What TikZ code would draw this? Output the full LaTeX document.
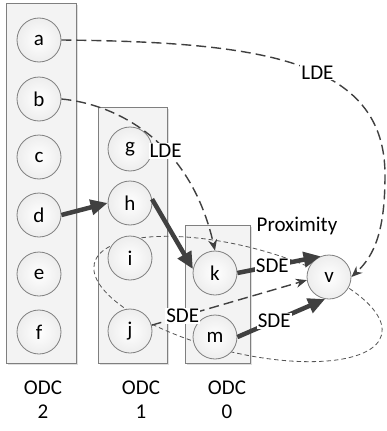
\documentclass[tikz,border=0pt]{standalone}
\usepackage{fontspec}
\setmainfont{Carlito}
\usetikzlibrary{arrows.meta,shadows}
\definecolor{edgedark}{HTML}{404040}
\definecolor{boxfill}{HTML}{F3F3F3}
\definecolor{boxline}{HTML}{7F7F7F}
\tikzset{
  odcbox/.style={draw=boxline, fill=boxfill, line width=0.9pt,
    drop shadow={shadow xshift=1.5pt, shadow yshift=-1.5pt, opacity=0.25}},
  vert/.style={circle, draw=boxline, line width=0.8pt, minimum size=44pt, inner sep=0pt,
    inner color=white, outer color=gray!14, font=\fontsize{21}{23}\selectfont},
  strong/.style={draw=edgedark, line width=4.5pt, -{Triangle[length=17pt,width=15pt]}},
  weak/.style={draw=edgedark, line width=1.4pt, dash pattern=on 10pt off 5pt,
    -{Stealth[length=11pt,width=9pt]}},
  lab/.style={fill=white, inner sep=1pt, font=\fontsize{21}{23}\selectfont},
  txt/.style={font=\fontsize{21}{24}\selectfont, align=center},
}
\begin{document}
\begin{tikzpicture}[x=1pt,y=-1pt]
\useasboundingbox (0,0) rectangle (387,431);
% boxes
\node[odcbox, minimum width=70pt, minimum height=360pt, inner sep=0pt] (c2) at (41,183) {};
\node[odcbox, minimum width=69pt, minimum height=256pt, inner sep=0pt] (c1) at (132.5,235) {};
\node[odcbox, minimum width=65pt, minimum height=138pt, inner sep=0pt] (c0) at (217.5,294) {};
% proximity ellipse
\draw[gray!65!black, line width=0.8pt, dash pattern=on 4.5pt off 3pt, rotate around={-14:(238,299)}]
  (238,299) ellipse [x radius=148, y radius=53];
\node[txt] (prox) at (297,226) {Proximity};
% vertices
\node[vert] (a) at (39,40) {a};
\node[vert] (b) at (39,99) {b};
\node[vert] (c) at (39,157) {c};
\node[vert] (d) at (39,215) {d};
\node[vert] (e) at (39,274) {e};
\node[vert] (f) at (39,332) {f};
\node[vert] (g) at (130,149) {g};
\node[vert] (h) at (130,203) {h};
\node[vert] (i) at (130,258) {i};
\node[vert] (j) at (130,331) {j};
\node[vert] (k) at (215,273) {k};
\node[vert] (m) at (215,337) {m};
\node[vert] (v) at (329,277) {v};
% column labels
\node[txt] (l2) at (43,400) {ODC\\2};
\node[txt] (l1) at (141,400) {ODC\\1};
\node[txt] (l0) at (227,400) {ODC\\0};
% strong edges
\draw[strong] (d.east) -- (h.west);
\draw[strong] (h.10) -- (k.170);
\draw[strong] (k.east) -- node[lab, pos=0.42] {SDE} (v.112);
\draw[strong] (m.east) -- node[lab, pos=0.42] {SDE} (v.-100);
% weak edges
\draw[weak] (j.15) -- node[lab, pos=0.2] {SDE} (v.188);
\draw[weak] (b.east) .. controls (115,104) and (190,140) .. node[lab, pos=0.6] {LDE} (k.north);
\coordinate (turn) at (385,175);
\draw[weak] (a.east) .. controls (262,42) and (385,60) .. node[lab, pos=0.56] {LDE} (turn)
  .. controls (385,230) and (375,255) .. (v.east);
\end{tikzpicture}
\end{document}
